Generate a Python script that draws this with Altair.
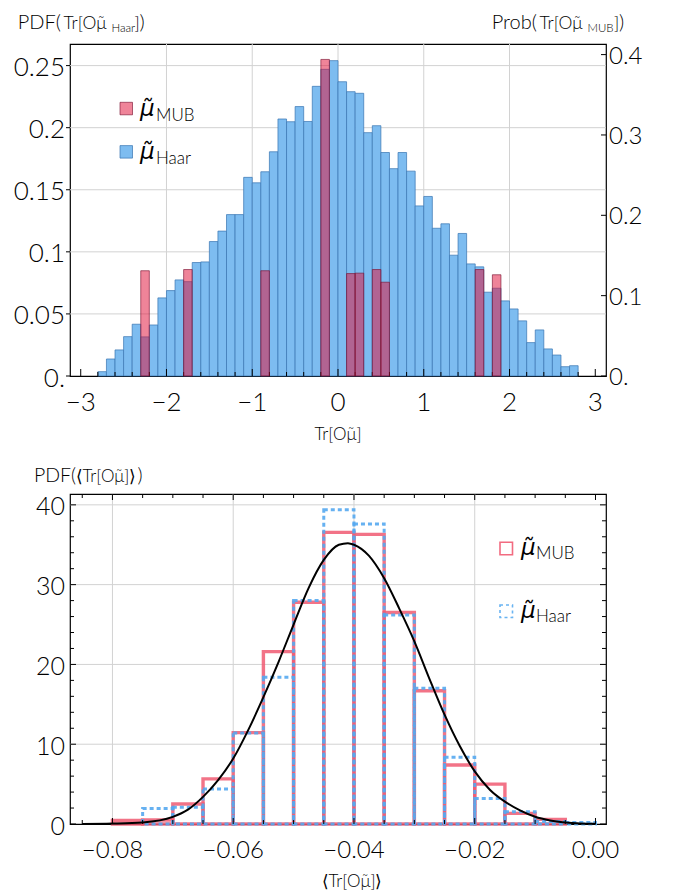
import altair as alt
import pandas as pd

FONT = "Lato"
MUFONT = "DejaVu Sans"
MU = "\u03bc\u0303"
LW = 300  # light weight for labels/titles

# ---------------- top panel data ----------------
haar_bin_lo = [-2.8, -2.7, -2.6, -2.5, -2.4, -2.3, -2.2, -2.1, -2.0, -1.9,
               -1.8, -1.7, -1.6, -1.5, -1.4, -1.3, -1.2, -1.1, -1.0, -0.9,
               -0.8, -0.7, -0.6, -0.5, -0.4, -0.3, -0.2, -0.1, 0.0, 0.1,
               0.2, 0.3, 0.4, 0.5, 0.6, 0.7, 0.8, 0.9, 1.0, 1.1,
               1.2, 1.3, 1.4, 1.5, 1.6, 1.7, 1.8, 1.9, 2.0, 2.1,
               2.2, 2.3, 2.4, 2.5, 2.6, 2.7]
haar_pdf = [0.0035, 0.0137, 0.021, 0.0317, 0.0417, 0.0315, 0.0411, 0.0629, 0.0688, 0.0774,
            0.076, 0.0914, 0.0919, 0.1083, 0.1167, 0.130, 0.130, 0.160, 0.1556, 0.1645,
            0.1806, 0.207, 0.2048, 0.217, 0.205, 0.2333, 0.247, 0.254, 0.237, 0.229,
            0.2277, 0.196, 0.2016, 0.180, 0.167, 0.180, 0.165, 0.137, 0.1446, 0.119,
            0.1226, 0.0973, 0.1148, 0.0903, 0.0879, 0.0675, 0.0707, 0.0605, 0.054, 0.0444,
            0.0269, 0.0371, 0.0218, 0.0169, 0.0075, 0.0083]
mub_bin_lo = [-2.3, -1.8, -0.9, -0.2, 0.1, 0.2, 0.4, 0.5, 1.6, 1.8]
mub_prob = [0.131, 0.1325, 0.131, 0.394, 0.1275, 0.128, 0.1325, 0.1167, 0.1325, 0.126]
TOP_BIN = 0.1

top_x_major = [-3, -2, -1, 0, 1, 2, 3]
top_x_labels = ["\u22123", "\u22122", "\u22121", "0", "1", "2", "3"]
top_x_minor = [round(-3 + 0.2 * i, 1) for i in range(31) if i % 5 != 0]
top_grid_x = [-2, -1, 0, 1, 2]
top_left_ticks = [0, 0.05, 0.1, 0.15, 0.2, 0.25]
top_left_labels = ["0.", "0.05", "0.1", "0.15", "0.2", "0.25"]
top_right_ticks = [0, 0.1, 0.2, 0.3, 0.4]
top_right_labels = ["0.", "0.1", "0.2", "0.3", "0.4"]
top_grid_y = [0.05, 0.1, 0.15, 0.2, 0.25]

# ---------------- bottom panel data ----------------
mean_bin_lo = [-0.080, -0.075, -0.070, -0.065, -0.060, -0.055, -0.050, -0.045,
               -0.040, -0.035, -0.030, -0.025, -0.020, -0.015, -0.010, -0.005]
mean_pdf_mub = [0.45, 0.5, 2.5, 5.65, 11.45, 21.6, 27.8, 36.55,
                36.3, 26.5, 16.7, 7.4, 5.0, 1.33, 0.58, 0.0]
mean_pdf_haar = [0.0, 1.95, 2.1, 4.4, 11.4, 18.4, 28.0, 39.4,
                 37.6, 26.2, 17.0, 8.36, 3.2, 1.54, 0.3, 0.2]
BOT_BIN = 0.005
fit_x = [-0.085, -0.080, -0.075, -0.070, -0.0675, -0.065, -0.0625, -0.060, -0.0575, -0.055,
         -0.0525, -0.050, -0.0475, -0.045, -0.0425, -0.041, -0.040, -0.0375, -0.035, -0.0325,
         -0.030, -0.0275, -0.025, -0.0225, -0.020, -0.0175, -0.015, -0.0125, -0.010, -0.0075,
         -0.005, -0.0025, 0.0]
fit_y = [0.0, 0.05, 0.2, 0.9, 1.8, 3.4, 5.5, 8.2, 11.8, 15.9,
         20.3, 25.0, 29.6, 33.1, 35.0, 35.2, 35.0, 33.6, 30.8, 27.0,
         22.9, 18.2, 13.7, 9.8, 6.6, 4.3, 2.8, 1.7, 0.9, 0.45,
         0.2, 0.07, 0.02]

bot_x_major = [-0.08, -0.06, -0.04, -0.02, 0.0]
bot_x_labels = ["\u22120.08", "\u22120.06", "\u22120.04", "\u22120.02", "0.00"]
bot_x_minor = [round(-0.085 + 0.005 * i, 3) for i in range(18) if i % 4 != 1]
bot_grid_x = [-0.08, -0.06, -0.04, -0.02]
bot_y_major = [0, 10, 20, 30, 40]
bot_y_labels = ["0", "10", "20", "30", "40"]
bot_y_minor = [2 * i for i in range(21) if i % 5 != 0]
bot_grid_y = [10, 20, 30, 40]

# ---------------- styling ----------------
W, H1, H2 = 536, 332, 330
GRID = "#d2d2d2"
BLUE_FILL = "#7dbcf0"
BLUE_EDGE = "#3b76b2"
RED_FILL = "#e0143c"
RED_EDGE = "#7a1030"
RED_LINE = "#f05a72"
BLUE_LINE = "#55a8f0"

df_haar = pd.DataFrame({"lo": haar_bin_lo, "pdf": haar_pdf})
df_haar["hi"] = (df_haar["lo"] + TOP_BIN).round(3)
df_mub = pd.DataFrame({"lo": mub_bin_lo, "prob": mub_prob})
df_mub["hi"] = (df_mub["lo"] + TOP_BIN).round(3)

df_mm = pd.DataFrame({"lo": mean_bin_lo, "pdf": mean_pdf_mub})
df_mm["hi"] = (df_mm["lo"] + BOT_BIN).round(4)
df_mm = df_mm[df_mm["pdf"] > 0]
df_mh = pd.DataFrame({"lo": mean_bin_lo, "pdf": mean_pdf_haar})
df_mh["hi"] = (df_mh["lo"] + BOT_BIN).round(4)
df_mh = df_mh[df_mh["pdf"] > 0]
df_fit = pd.DataFrame({"x": fit_x, "y": fit_y})

xs_top = alt.Scale(domain=[-3.125, 3.125], nice=False, zero=False)
ys_left = alt.Scale(domain=[0, 0.2674], nice=False)
ys_right = alt.Scale(domain=[0, 0.4132], nice=False)
xs_bot = alt.Scale(domain=[-0.08703, 0.00174], nice=False, zero=False)
ys_bot = alt.Scale(domain=[0, 41.36], nice=False)


def one():
    return pd.DataFrame({"k": [0]})


def txt(s, x, y, size, font=FONT, style="normal", align="left", weight=LW):
    return alt.Chart(pd.DataFrame({"t": [s]})).mark_text(
        font=font, fontSize=size, fontStyle=style, fontWeight=weight, align=align,
        baseline="alphabetic", color="black"
    ).encode(text="t:N", x=alt.value(x), y=alt.value(y))


def square(x, y, size, **kw):
    return alt.Chart(one()).mark_rect(**kw).encode(
        x=alt.value(x), x2=alt.value(x + size), y=alt.value(y), y2=alt.value(y + size))


def xticks(vals, scale, y0, y1):
    return alt.Chart(pd.DataFrame({"v": vals})).mark_rule(color="black", strokeWidth=1).encode(
        x=alt.X("v:Q", scale=scale, axis=None), y=alt.value(y0), y2=alt.value(y1))


def yticks(vals, scale, x0, x1):
    return alt.Chart(pd.DataFrame({"v": vals})).mark_rule(color="black", strokeWidth=1).encode(
        y=alt.Y("v:Q", scale=scale, axis=None), x=alt.value(x0), x2=alt.value(x1))


def vgrid(vals, scale):
    return alt.Chart(pd.DataFrame({"v": vals})).mark_rule(color=GRID, strokeWidth=1).encode(
        x=alt.X("v:Q", scale=scale, axis=None))


def hgrid(vals, scale):
    return alt.Chart(pd.DataFrame({"v": vals})).mark_rule(color=GRID, strokeWidth=1).encode(
        y=alt.Y("v:Q", scale=scale, axis=None))


def xlabels(vals, labels, scale, y, size):
    return alt.Chart(pd.DataFrame({"v": vals, "lab": labels})).mark_text(
        font=FONT, fontSize=size, fontWeight=LW, align="center", baseline="alphabetic", color="black"
    ).encode(x=alt.X("v:Q", scale=scale, axis=None), y=alt.value(y), text="lab:N")


def ylabels(vals, labels, scale, x, size, align, dy=2.5):
    return alt.Chart(pd.DataFrame({"v": vals, "lab": labels})).mark_text(
        font=FONT, fontSize=size, fontWeight=LW, align=align, baseline="middle", color="black", dy=dy
    ).encode(y=alt.Y("v:Q", scale=scale, axis=None), x=alt.value(x), text="lab:N")


# ---------------- top panel ----------------
haar_layer = alt.Chart(df_haar).mark_rect(
    fill=BLUE_FILL, stroke=BLUE_EDGE, strokeWidth=0.9, strokeOpacity=0.8
).encode(
    x=alt.X("lo:Q", scale=xs_top, axis=None),
    x2="hi:Q",
    y=alt.Y("pdf:Q", scale=ys_left, axis=None),
    y2=alt.datum(0),
)

mub_layer = alt.Chart(df_mub).mark_rect(
    fill=RED_FILL, fillOpacity=0.52, stroke=RED_EDGE, strokeWidth=0.9, strokeOpacity=0.7
).encode(
    x=alt.X("lo:Q", scale=xs_top, axis=None),
    x2="hi:Q",
    y=alt.Y("prob:Q", scale=ys_right, axis=None),
    y2=alt.datum(0),
)

top_left_group = alt.layer(
    vgrid(top_grid_x, xs_top),
    hgrid(top_grid_y, ys_left),
    haar_layer,
    xticks(top_x_major, xs_top, H1, H1 - 7),
    xticks(top_x_minor, xs_top, H1, H1 - 4),
    yticks(top_left_ticks, ys_left, -4, 0),
    xlabels(top_x_major, top_x_labels, xs_top, H1 + 34.6, 26),
    ylabels(top_left_ticks, top_left_labels, ys_left, -5, 26, "right"),
)
top_right_group = alt.layer(
    mub_layer,
    yticks(top_right_ticks, ys_right, W, W - 5),
    ylabels(top_right_ticks, top_right_labels, ys_right, W + 3, 24, "left", dy=2),
)
TB = -14.7   # title baseline (relative to plot top)
top_text_group = alt.layer(
    # extent anchor (invisible)
    alt.Chart(one()).mark_rule(strokeOpacity=0).encode(
        x=alt.value(-61), x2=alt.value(-60), y=alt.value(-34.7), y2=alt.value(-33.7)),
    txt("PDF(", -52.3, TB, 20),
    txt("Tr[O" + MU, -6.5, TB, 17.5),
    txt("Haar", 41.5, TB + 3, 11.5),
    txt("]", 64.5, TB, 17.5),
    txt(")", 69.5, TB, 20),
    txt("Prob(", 421.7, TB, 20),
    txt("Tr[O" + MU, 469.5, TB, 17.5),
    txt("MUB", 517.5, TB + 3, 11.5),
    txt("]", 544, TB, 17.5),
    txt(")", 549, TB, 20),
    txt("Tr[O" + MU + "]", W / 2, 396.3, 17, align="center"),
    # legend
    square(50, 58.3, 12.5, fill=RED_FILL, fillOpacity=0.52, stroke=RED_EDGE, strokeOpacity=0.7, strokeWidth=0.9),
    square(50, 101.6, 12.5, fill=BLUE_FILL, stroke=BLUE_EDGE, strokeOpacity=0.8, strokeWidth=0.9),
    txt(MU, 70, 72, 23, font=MUFONT, style="italic", weight="normal"),
    txt("MUB", 86, 77, 17),
    txt(MU, 70, 115, 23, font=MUFONT, style="italic", weight="normal"),
    txt("Haar", 86, 119.5, 17),
)

top = alt.layer(top_left_group, top_right_group, top_text_group).resolve_scale(
    y="independent").properties(width=W, height=H1)

# ---------------- bottom panel ----------------
mub_rects = alt.Chart(df_mm).mark_rect(
    filled=False, stroke=RED_LINE, strokeWidth=3.4, strokeOpacity=0.85
).encode(
    x=alt.X("lo:Q", scale=xs_bot, axis=None),
    x2="hi:Q",
    y=alt.Y("pdf:Q", scale=ys_bot, axis=None),
    y2=alt.datum(0),
)
haar_rects = alt.Chart(df_mh).mark_rect(
    filled=False, stroke=BLUE_LINE, strokeWidth=3, strokeDash=[4, 3], strokeOpacity=0.9
).encode(
    x=alt.X("lo:Q", scale=xs_bot, axis=None),
    x2="hi:Q",
    y=alt.Y("pdf:Q", scale=ys_bot, axis=None),
    y2=alt.datum(0),
)
fit_line = alt.Chart(df_fit).mark_line(color="black", strokeWidth=2, interpolate="monotone").encode(
    x=alt.X("x:Q", scale=xs_bot, axis=None),
    y=alt.Y("y:Q", scale=ys_bot, axis=None),
)

bottom = alt.layer(
    vgrid(bot_grid_x, xs_bot),
    hgrid(bot_grid_y, ys_bot),
    mub_rects,
    haar_rects,
    fit_line,
    xticks(bot_x_major, xs_bot, H2, H2 - 6),
    xticks(bot_x_minor, xs_bot, H2, H2 - 4),
    xticks(bot_x_major, xs_bot, 0, 6),
    xticks(bot_x_minor, xs_bot, 0, 4),
    yticks(bot_y_major, ys_bot, 0, 6),
    yticks(bot_y_minor, ys_bot, 0, 4),
    yticks(bot_y_major, ys_bot, W, W - 6),
    yticks(bot_y_minor, ys_bot, W, W - 4),
    xlabels(bot_x_major, bot_x_labels, xs_bot, H2 + 33.5, 24),
    ylabels(bot_y_major, bot_y_labels, ys_bot, -5, 25, "right"),
    txt("PDF(", -36, -12, 19.5),
    txt("\u27e8Tr[O" + MU + "]\u27e9", 5.5, -12, 17),
    txt(")", 67.5, -12, 19.5),
    txt("\u27e8Tr[O" + MU + "]\u27e9", 282, 392.5, 17, align="center"),
    square(430, 48.3, 12.5, filled=False, stroke="#f26b80", strokeWidth=1.6),
    square(430, 111, 12.5, filled=False, stroke="#6ab4f2", strokeWidth=1.6, strokeDash=[3, 3]),
    txt(MU, 451, 60.6, 23, font=MUFONT, style="italic", weight="normal"),
    txt("MUB", 466, 64.6, 17),
    txt(MU, 451, 124, 23, font=MUFONT, style="italic", weight="normal"),
    txt("Haar", 466, 128, 17),
).properties(width=W, height=H2)

chart = alt.vconcat(top, bottom, spacing=118, bounds="flush").properties(
    padding={"left": 0, "top": 0, "right": 4, "bottom": 0}
).configure_view(stroke="black", strokeWidth=1.2)

chart.save("out.html", embed_options={"renderer": "svg", "actions": False})
